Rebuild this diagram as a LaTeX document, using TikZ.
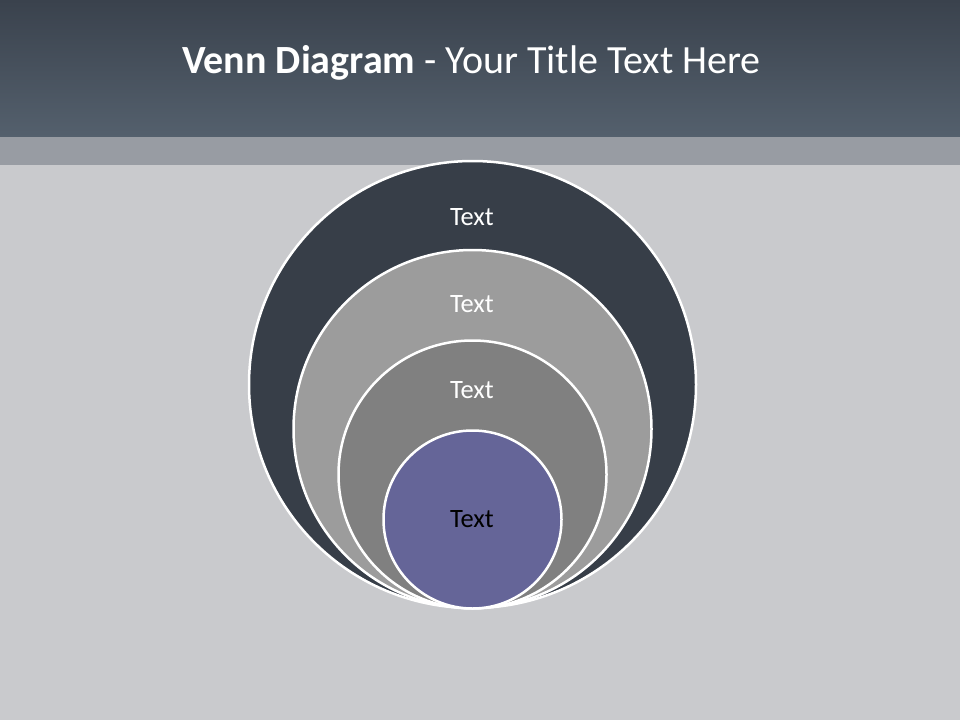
\documentclass[tikz,border=0pt]{standalone}
\usepackage{fontspec}
\setmainfont{Carlito}
\usetikzlibrary{positioning}
\definecolor{barTop}{RGB}{58,66,77}
\definecolor{barBottom}{RGB}{84,96,109}
\definecolor{band}{RGB}{152,156,163}
\definecolor{slide}{RGB}{201,202,205}
\definecolor{ringDark}{RGB}{55,62,72}
\definecolor{ringLight}{RGB}{156,156,156}
\definecolor{ringMid}{RGB}{128,128,128}
\definecolor{core}{RGB}{101,101,152}

\begin{document}
\begin{tikzpicture}[x=1pt, y=-1pt]
    \tikzset{
      ring/.style={circle, draw=white, line width=2.5pt, inner sep=0pt},
      lbl/.style={font=\fontsize{26.5}{30}\selectfont, text=white}
    }
    % Background and title bar
    \fill[slide] (0,0) rectangle (960,720);
    \shade[top color=barTop, bottom color=barBottom] (0,0) rectangle (960,137);
    \fill[band] (0,137) rectangle (960,165);
    \node[text=white, font=\fontsize{40}{46}\selectfont] (title) at (471.5,63)
      {\textbf{Venn Diagram} - Your Title Text Here};

    % Nested circles
    \node[ring, fill=ringDark, minimum size=447pt] (outer) at (472.5,384.5) {};
    \node[ring, fill=ringLight, minimum size=358pt] (second) at (472.5,429) {};
    \node[ring, fill=ringMid, minimum size=268pt] (third) at (472.5,474.5) {};
    \node[ring, fill=core, minimum size=178pt] (inner) at (472.5,519.5) {};

    % Labels
    \node[lbl] (outerText) at (472,217) {Text};
    \node[lbl] (secondText) at (472,304) {Text};
    \node[lbl] (thirdText) at (472,390) {Text};
    \node[lbl, text=black] (innerText) at (472,519) {Text};
\end{tikzpicture}
\end{document}
